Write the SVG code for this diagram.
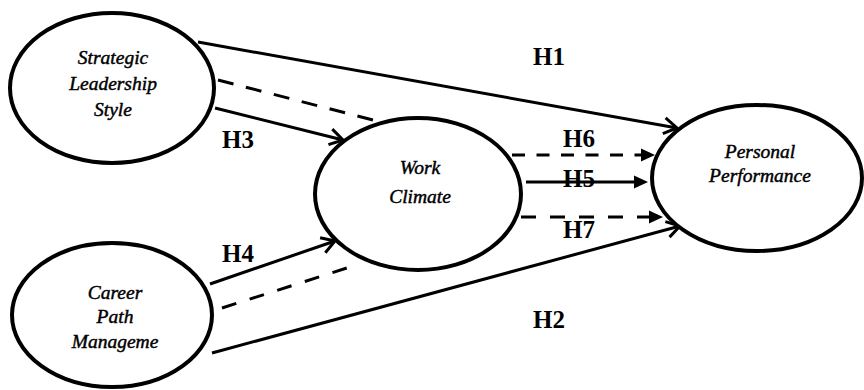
<svg xmlns="http://www.w3.org/2000/svg" width="864" height="390" viewBox="0 0 864 390">
<defs>
<style>
.node{fill:#fff;stroke:#000;stroke-width:4}
.nt{font-family:"Liberation Serif","Times New Roman",serif;font-style:italic;font-size:19.5px;fill:#000;stroke:#000;stroke-width:0.45;text-anchor:middle}
.lab{font-family:"Liberation Serif","Times New Roman",serif;font-weight:bold;font-size:25px;fill:#000}
.c{stroke:#000;stroke-width:3;fill:none}
.open{marker-end:url(#openArrow)}
.fill{marker-end:url(#fillArrow)}
</style>
<marker id="openArrow" markerUnits="userSpaceOnUse" markerWidth="30" markerHeight="30" refX="0" refY="0" viewBox="-20 -15 30 30" orient="auto" overflow="visible">
<path d="M-13,-8 L0,0 L-13,8" fill="none" stroke="#000" stroke-width="3" stroke-linejoin="miter"/>
</marker>
<marker id="fillArrow" markerUnits="userSpaceOnUse" markerWidth="30" markerHeight="30" refX="0" refY="0" viewBox="-20 -15 30 30" orient="auto" overflow="visible">
<path d="M-5,-6.5 L9,0 L-5,6.5 Z" fill="#000" stroke="none"/>
</marker>
</defs>
<rect width="864" height="390" fill="#fff"/>
<g id="connectors">
<line class="c open" x1="198" y1="42" x2="677" y2="128"/>
<line class="c" stroke-dasharray="16 12.8" x1="218" y1="80" x2="373" y2="120"/>
<line class="c open" x1="215" y1="108" x2="343" y2="140"/>
<line class="c open" x1="210" y1="284" x2="335" y2="241"/>
<line class="c" stroke-dasharray="15 14" x1="222" y1="308" x2="350" y2="267"/>
<line class="c open" x1="212" y1="353" x2="680" y2="226"/>
<line class="c fill" stroke-dasharray="13 11.5" x1="512" y1="155" x2="646" y2="155"/>
<line class="c fill" x1="526" y1="182" x2="639" y2="182"/>
<line class="c fill" stroke-dasharray="15 14" x1="521" y1="217" x2="654" y2="217"/>
</g>
<g id="labels">
<text class="lab" x="533" y="65">H1</text>
<text class="lab" x="222" y="148">H3</text>
<text class="lab" x="222" y="262">H4</text>
<text class="lab" x="533" y="328">H2</text>
<text class="lab" x="563" y="147">H6</text>
<text class="lab" x="563" y="187">H5</text>
<text class="lab" x="563" y="238">H7</text>
</g>
<g id="strategic">
<ellipse class="node" cx="112" cy="88" rx="102" ry="75"/>
<text class="nt" x="113" y="64">Strategic</text>
<text class="nt" x="113" y="90">Leadership</text>
<text class="nt" x="113" y="116">Style</text>
</g>
<g id="career">
<ellipse class="node" cx="112" cy="315" rx="100" ry="72"/>
<text class="nt" x="115" y="299">Career</text>
<text class="nt" x="115" y="323">Path</text>
<text class="nt" x="115" y="348">Manageme</text>
</g>
<g id="workclimate">
<ellipse class="node" cx="418" cy="194" rx="103" ry="76"/>
<text class="nt" x="420" y="174">Work</text>
<text class="nt" x="420" y="203">Climate</text>
</g>
<g id="performance">
<ellipse class="node" cx="757" cy="178" rx="105" ry="73"/>
<text class="nt" x="760" y="158">Personal</text>
<text class="nt" x="760" y="182">Performance</text>
</g>
</svg>
